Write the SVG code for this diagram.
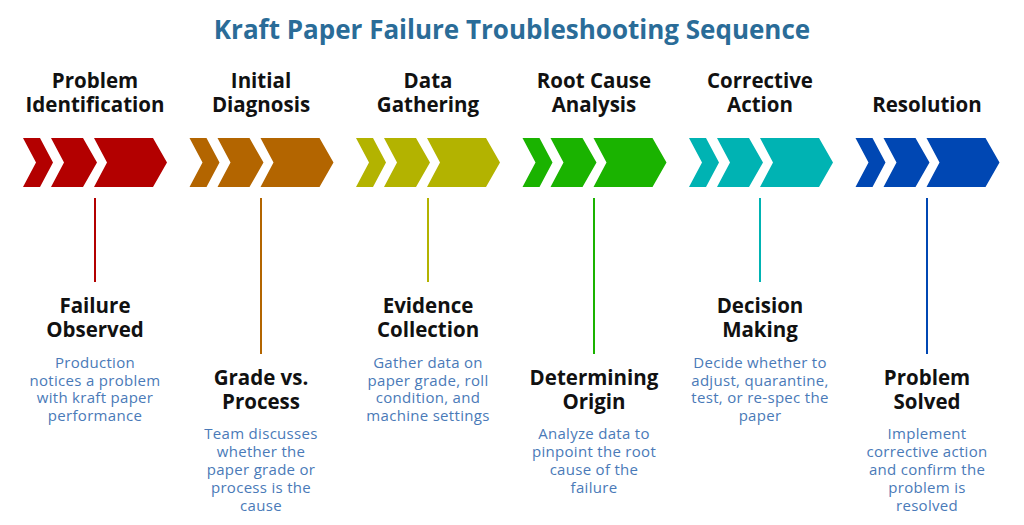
<svg xmlns="http://www.w3.org/2000/svg" width="1024" height="525" viewBox="0 0 1024 525">
<style>
.t{font-family:"Open Sans","Liberation Sans",sans-serif;font-weight:700;font-size:26px;fill:#2a6c98;text-anchor:middle}
.h{font-family:"Open Sans","Liberation Sans",sans-serif;font-weight:700;font-size:20.5px;fill:#111;text-anchor:middle}
.d{font-family:"Open Sans","Liberation Sans",sans-serif;font-size:15px;letter-spacing:0.3px;fill:#4a7ab8;text-anchor:middle}
.c{stroke-width:2}
</style>
<defs>
<g id="chev">
<polygon points="0,0 17,0 30,24.5 17,49 0,49 13,24.5"/>
<polygon points="28,0 60,0 74,24.5 60,49 28,49 41,24.5"/>
<polygon points="71,0 130,0 144,24.5 130,49 71,49 84,24.5"/>
</g>
</defs>
<rect width="1024" height="525" fill="#fff"/>
<text class="t" x="512" y="39">Kraft Paper Failure Troubleshooting Sequence</text>
<g id="connectors">
<line class="c" x1="95" y1="198" x2="95" y2="282" stroke="#b30000"/>
<line class="c" x1="261" y1="198" x2="261" y2="354" stroke="#b36500"/>
<line class="c" x1="428" y1="198" x2="428" y2="282" stroke="#b3b300"/>
<line class="c" x1="594" y1="198" x2="594" y2="354" stroke="#1ab300"/>
<line class="c" x1="760" y1="198" x2="760" y2="282" stroke="#00b3b3"/>
<line class="c" x1="927" y1="198" x2="927" y2="354" stroke="#0047b3"/>
</g>
<g id="step1">
<use href="#chev" x="23" y="138" fill="#b30000"/>
<text class="h" x="95" y="88">Problem</text><text class="h" x="95" y="112">Identification</text>
<text class="h" x="95" y="313">Failure</text><text class="h" x="95" y="337">Observed</text>
<text class="d" x="95" y="368">Production</text><text class="d" x="95" y="386">notices a problem</text><text class="d" x="95" y="403">with kraft paper</text><text class="d" x="95" y="421">performance</text>
</g>
<g id="step2">
<use href="#chev" x="189.5" y="138" fill="#b36500"/>
<text class="h" x="261" y="88">Initial</text><text class="h" x="261" y="112">Diagnosis</text>
<text class="h" x="261" y="385">Grade vs.</text><text class="h" x="261" y="409">Process</text>
<text class="d" x="261" y="439">Team discusses</text><text class="d" x="261" y="457">whether the</text><text class="d" x="261" y="475">paper grade or</text><text class="d" x="261" y="493">process is the</text><text class="d" x="261" y="511">cause</text>
</g>
<g id="step3">
<use href="#chev" x="356" y="138" fill="#b3b300"/>
<text class="h" x="428" y="88">Data</text><text class="h" x="428" y="112">Gathering</text>
<text class="h" x="428" y="313">Evidence</text><text class="h" x="428" y="337">Collection</text>
<text class="d" x="428" y="368">Gather data on</text><text class="d" x="428" y="386">paper grade, roll</text><text class="d" x="428" y="403">condition, and</text><text class="d" x="428" y="421">machine settings</text>
</g>
<g id="step4">
<use href="#chev" x="522.5" y="138" fill="#1ab300"/>
<text class="h" x="594" y="88">Root Cause</text><text class="h" x="594" y="112">Analysis</text>
<text class="h" x="594" y="385">Determining</text><text class="h" x="594" y="409">Origin</text>
<text class="d" x="594" y="439">Analyze data to</text><text class="d" x="594" y="457">pinpoint the root</text><text class="d" x="594" y="475">cause of the</text><text class="d" x="594" y="493">failure</text>
</g>
<g id="step5">
<use href="#chev" x="689" y="138" fill="#00b3b3"/>
<text class="h" x="760" y="88">Corrective</text><text class="h" x="760" y="112">Action</text>
<text class="h" x="760" y="313">Decision</text><text class="h" x="760" y="337">Making</text>
<text class="d" x="760" y="368">Decide whether to</text><text class="d" x="760" y="386">adjust, quarantine,</text><text class="d" x="760" y="403">test, or re-spec the</text><text class="d" x="760" y="421">paper</text>
</g>
<g id="step6">
<use href="#chev" x="855.5" y="138" fill="#0047b3"/>
<text class="h" x="927" y="112">Resolution</text>
<text class="h" x="927" y="385">Problem</text><text class="h" x="927" y="409">Solved</text>
<text class="d" x="927" y="439">Implement</text><text class="d" x="927" y="457">corrective action</text><text class="d" x="927" y="475">and confirm the</text><text class="d" x="927" y="493">problem is</text><text class="d" x="927" y="511">resolved</text>
</g>
</svg>
